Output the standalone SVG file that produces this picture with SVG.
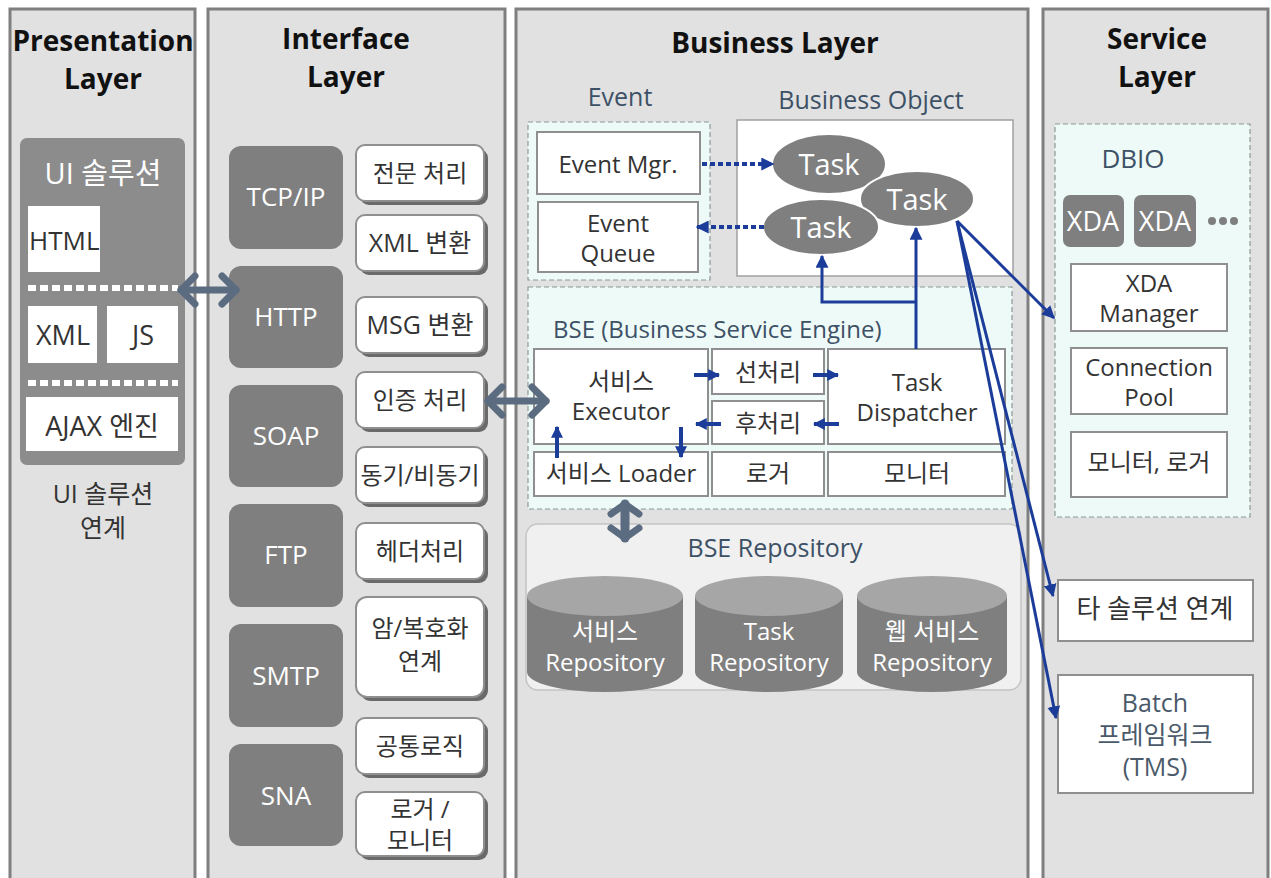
<svg xmlns="http://www.w3.org/2000/svg" width="1271" height="878" viewBox="0 0 1271 878">
<defs>
<marker id="ab" viewBox="0 0 10 10" refX="9" refY="5" markerWidth="13" markerHeight="13" markerUnits="userSpaceOnUse" orient="auto"><path d="M0,0 L10,5 L0,10 z" fill="#1c3c9a"/></marker>
<marker id="abs" viewBox="0 0 10 10" refX="9" refY="5" markerWidth="12" markerHeight="12" markerUnits="userSpaceOnUse" orient="auto"><path d="M0,0 L10,5 L0,10 z" fill="#1c3c9a"/></marker>
</defs>
<style>
text{font-family:"Open Sans","Noto Sans CJK KR",sans-serif;text-anchor:middle;dominant-baseline:central}
.panel{fill:#e1e1e1;stroke:#7f7f7f;stroke-width:3}
.title{font-size:28px;font-weight:bold;fill:#111}
.wbox{fill:#fff;stroke:#8f8f8f;stroke-width:2}
.gbox{fill:#7f7f7f}
.shadow{fill:#6a6a6a}
.dash{fill:#eefaf7;stroke:#8a9a95;stroke-width:1.2;stroke-dasharray:5,3}
.t{font-size:24px;fill:#333}
.tw{font-size:26px;fill:#fff}
.sec{font-size:25px;fill:#3d5166}
.rep{font-size:24px;fill:#fff}
.blue{stroke:#1c3c9a;fill:none}
.chev{stroke:#5b6b80;stroke-width:7;fill:none;stroke-linecap:round;stroke-linejoin:round}
</style>
<rect width="1271" height="878" fill="#fff"/>

<g id="presentation-layer">
<rect class="panel" x="10" y="9" width="185" height="875"/>
<text class="title"><tspan x="103" y="40">Presentation</tspan><tspan x="103" y="78">Layer</tspan></text>
</g>
<g id="ui-solution">
<rect x="20" y="138" width="165" height="327" rx="7" fill="#8c8c8c"/>
<text class="tw" x="103" y="172" style="font-size:29px">UI 솔루션</text>
<rect x="28" y="206" width="72" height="66" fill="#fff"/>
<text class="t" x="29" y="240" style="text-anchor:start;font-size:26px">HTML</text>
<line x1="28" y1="288" x2="178" y2="288" stroke="#fff" stroke-width="6" stroke-dasharray="8,4"/>
<rect x="28" y="306" width="69" height="57" fill="#fff"/>
<text class="t" x="63" y="334" style="font-size:27px">XML</text>
<rect x="107" y="306" width="71" height="57" fill="#fff"/>
<text class="t" x="143" y="334" style="font-size:27px">JS</text>
<line x1="28" y1="383" x2="178" y2="383" stroke="#fff" stroke-width="6" stroke-dasharray="8,4"/>
<rect x="26" y="397" width="152" height="54" fill="#fff"/>
<text class="t" x="102" y="425" style="font-size:27px">AJAX 엔진</text>
</g>
<g id="ui-link-label">
<text class="t" style="font-size:25px"><tspan x="103" y="493">UI 솔루션</tspan><tspan x="103" y="527">연계</tspan></text>
</g>

<g id="interface-layer">
<rect class="panel" x="208" y="9" width="297" height="875"/>
<text class="title"><tspan x="346" y="38">Interface</tspan><tspan x="346" y="76">Layer</tspan></text>
</g>
<g id="protocols">
<rect class="gbox" x="229" y="146" width="114" height="103" rx="12"/><text class="tw" x="286" y="196">TCP/IP</text>
<rect class="gbox" x="229" y="266" width="114" height="102" rx="12"/><text class="tw" x="286" y="316">HTTP</text>
<rect class="gbox" x="229" y="385" width="114" height="102" rx="12"/><text class="tw" x="286" y="435">SOAP</text>
<rect class="gbox" x="229" y="504" width="114" height="103" rx="12"/><text class="tw" x="286" y="554">FTP</text>
<rect class="gbox" x="229" y="624" width="114" height="103" rx="12"/><text class="tw" x="286" y="675">SMTP</text>
<rect class="gbox" x="229" y="744" width="114" height="102" rx="12"/><text class="tw" x="286" y="795">SNA</text>
</g>
<g id="interface-functions">
<rect class="shadow" x="360" y="149" width="128" height="56" rx="9"/><rect class="wbox" x="356" y="145" width="128" height="56" rx="9"/><text class="t" x="420" y="172">전문 처리</text>
<rect class="shadow" x="360" y="219" width="128" height="56" rx="9"/><rect class="wbox" x="356" y="215" width="128" height="56" rx="9"/><text class="t" x="420" y="242" style="font-size:25px">XML 변환</text>
<rect class="shadow" x="360" y="301" width="128" height="56" rx="9"/><rect class="wbox" x="356" y="297" width="128" height="56" rx="9"/><text class="t" x="420" y="324" style="font-size:25px">MSG 변환</text>
<rect class="shadow" x="360" y="376" width="128" height="56" rx="9"/><rect class="wbox" x="356" y="372" width="128" height="56" rx="9"/><text class="t" x="420" y="399">인증 처리</text>
<rect class="shadow" x="360" y="451" width="128" height="56" rx="9"/><rect class="wbox" x="356" y="447" width="128" height="56" rx="9"/><text class="t" x="420" y="474">동기/비동기</text>
<rect class="shadow" x="360" y="527" width="128" height="56" rx="9"/><rect class="wbox" x="356" y="523" width="128" height="56" rx="9"/><text class="t" x="420" y="550">헤더처리</text>
<rect class="shadow" x="360" y="601" width="128" height="100" rx="11"/><rect class="wbox" x="356" y="597" width="128" height="100" rx="11"/><text class="t"><tspan x="420" y="627">암/복호화</tspan><tspan x="420" y="660">연계</tspan></text>
<rect class="shadow" x="360" y="722" width="128" height="56" rx="9"/><rect class="wbox" x="356" y="718" width="128" height="56" rx="9"/><text class="t" x="420" y="745">공통로직</text>
<rect class="shadow" x="360" y="796" width="128" height="64" rx="9"/><rect class="wbox" x="356" y="792" width="128" height="64" rx="9"/><text class="t"><tspan x="420" y="808">로거 /</tspan><tspan x="420" y="839">모니터</tspan></text>
</g>

<g id="business-layer">
<rect class="panel" x="516" y="9" width="512" height="875"/>
<text class="title" x="775" y="42">Business Layer</text>
</g>
<g id="event">
<text class="sec" x="620" y="96">Event</text>
<rect class="dash" x="528" y="122" width="182" height="158"/>
<rect class="wbox" x="537" y="132" width="163" height="62"/>
<text class="t" x="618" y="163">Event Mgr.</text>
<rect class="wbox" x="538" y="202" width="160" height="70"/>
<text class="t"><tspan x="618" y="222">Event</tspan><tspan x="618" y="252">Queue</tspan></text>
</g>
<g id="business-object">
<text class="sec" x="871" y="99">Business Object</text>
<rect x="737" y="120" width="276" height="156" fill="#fff" stroke="#a0a0a0" stroke-width="1.5"/>
<ellipse cx="829" cy="164" rx="57" ry="30" fill="#7f7f7f" stroke="#fff" stroke-width="2"/>
<text class="tw" x="829" y="163" style="font-size:29px">Task</text>
<ellipse cx="917" cy="199" rx="57" ry="28" fill="#7f7f7f" stroke="#fff" stroke-width="2"/>
<text class="tw" x="917" y="198" style="font-size:29px">Task</text>
<ellipse cx="821" cy="227" rx="58" ry="28" fill="#7f7f7f" stroke="#fff" stroke-width="2"/>
<text class="tw" x="821" y="226" style="font-size:29px">Task</text>
</g>
<g id="bse">
<rect class="dash" x="528" y="287" width="484" height="222"/>
<text class="sec" x="553" y="328" style="text-anchor:start;font-size:24px">BSE (Business Service Engine)</text>
<rect class="wbox" x="534" y="349" width="174" height="95"/>
<text class="t"><tspan x="621" y="380">서비스</tspan><tspan x="621" y="410">Executor</tspan></text>
<rect class="wbox" x="712" y="349" width="112" height="45"/>
<text class="t" x="768" y="371">선처리</text>
<rect class="wbox" x="712" y="401" width="112" height="43"/>
<text class="t" x="768" y="422">후처리</text>
<rect class="wbox" x="828" y="349" width="177" height="95"/>
<text class="t"><tspan x="917" y="381">Task</tspan><tspan x="917" y="411">Dispatcher</tspan></text>
<rect class="wbox" x="534" y="452" width="174" height="44"/>
<text class="t" x="621" y="472">서비스 Loader</text>
<rect class="wbox" x="712" y="452" width="112" height="44"/>
<text class="t" x="768" y="472">로거</text>
<rect class="wbox" x="828" y="452" width="177" height="44"/>
<text class="t" x="917" y="472">모니터</text>
</g>
<g id="bse-repository">
<rect x="526" y="524" width="495" height="166" rx="12" fill="#f0f0f0" stroke="#c4c4c4" stroke-width="1.5"/>
<text class="sec" x="775" y="547">BSE Repository</text>
<path d="M527,596 v76 a78,20 0 0 0 156,0 v-76 z" fill="#7f7f7f"/>
<ellipse cx="605" cy="596" rx="78" ry="20" fill="#a6a6a6"/>
<text class="rep"><tspan x="605" y="630">서비스</tspan><tspan x="605" y="661">Repository</tspan></text>
<path d="M695,596 v76 a74,20 0 0 0 148,0 v-76 z" fill="#7f7f7f"/>
<ellipse cx="769" cy="596" rx="74" ry="20" fill="#a6a6a6"/>
<text class="rep"><tspan x="769" y="630">Task</tspan><tspan x="769" y="661">Repository</tspan></text>
<path d="M857,596 v76 a75,20 0 0 0 150,0 v-76 z" fill="#7f7f7f"/>
<ellipse cx="932" cy="596" rx="75" ry="20" fill="#a6a6a6"/>
<text class="rep"><tspan x="932" y="630">웹 서비스</tspan><tspan x="932" y="661">Repository</tspan></text>
</g>

<g id="service-layer">
<rect class="panel" x="1043" y="9" width="225" height="875"/>
<text class="title"><tspan x="1157" y="38">Service</tspan><tspan x="1157" y="76">Layer</tspan></text>
</g>
<g id="dbio">
<rect class="dash" x="1055" y="124" width="195" height="393"/>
<text class="sec" x="1133" y="158" style="font-size:26px">DBIO</text>
<rect class="gbox" x="1063" y="195" width="61" height="52" rx="7"/>
<text class="tw" x="1093" y="220" style="font-size:27px">XDA</text>
<rect class="gbox" x="1134" y="195" width="62" height="52" rx="7"/>
<text class="tw" x="1165" y="220" style="font-size:27px">XDA</text>
<circle cx="1212" cy="221" r="4" fill="#7f7f7f"/><circle cx="1223" cy="221" r="4" fill="#7f7f7f"/><circle cx="1234" cy="221" r="4" fill="#7f7f7f"/>
<rect class="wbox" x="1071" y="264" width="156" height="67"/>
<text class="t"><tspan x="1149" y="282">XDA</tspan><tspan x="1149" y="312">Manager</tspan></text>
<rect class="wbox" x="1071" y="348" width="156" height="66"/>
<text class="t"><tspan x="1149" y="366">Connection</tspan><tspan x="1149" y="396">Pool</tspan></text>
<rect class="wbox" x="1071" y="432" width="156" height="65"/>
<text class="t" x="1149" y="461">모니터, 로거</text>
</g>
<g id="other-solution">
<rect class="wbox" x="1058" y="580" width="195" height="61"/>
<text class="t" x="1155" y="608" style="font-size:26px">타 솔루션 연계</text>
</g>
<g id="batch">
<rect class="wbox" x="1058" y="675" width="195" height="118"/>
<text class="t" style="fill:#4a5a6a;font-size:25px"><tspan x="1155" y="702">Batch</tspan><tspan x="1155" y="734">프레임워크</tspan><tspan x="1155" y="766">(TMS)</tspan></text>
</g>

<g id="connectors">
<line class="chev" x1="181" y1="290" x2="236" y2="290"/>
<polyline class="chev" points="195,276 181,290 195,304"/>
<polyline class="chev" points="222,276 236,290 222,304"/>
<line class="chev" x1="488" y1="401" x2="546" y2="401"/>
<polyline class="chev" points="502,387 488,401 502,415"/>
<polyline class="chev" points="532,387 546,401 532,415"/>
<line class="chev" x1="625" y1="504" x2="625" y2="538" style="stroke-width:9"/>
<polyline class="chev" points="611,514 625,504 639,514"/>
<polyline class="chev" points="611,528 625,538 639,528"/>
<line class="blue" x1="702" y1="164" x2="773" y2="164" stroke-width="4" stroke-dasharray="5,3" marker-end="url(#ab)"/>
<line class="blue" x1="764" y1="227" x2="697" y2="227" stroke-width="4" stroke-dasharray="5,3" marker-end="url(#ab)"/>
<path class="blue" d="M916,349 V228" stroke-width="3" marker-end="url(#ab)"/>
<path class="blue" d="M916,302 H822 V256" stroke-width="3" marker-end="url(#ab)"/>
<line class="blue" x1="694" y1="375" x2="719" y2="375" stroke-width="4" marker-end="url(#abs)"/>
<line class="blue" x1="813" y1="375" x2="838" y2="375" stroke-width="4" marker-end="url(#abs)"/>
<line class="blue" x1="839" y1="424" x2="814" y2="424" stroke-width="4" marker-end="url(#abs)"/>
<line class="blue" x1="721" y1="424" x2="696" y2="424" stroke-width="4" marker-end="url(#abs)"/>
<line class="blue" x1="557" y1="458" x2="557" y2="427" stroke-width="4" marker-end="url(#abs)"/>
<line class="blue" x1="681" y1="427" x2="681" y2="457" stroke-width="4" marker-end="url(#abs)"/>
<line class="blue" x1="957" y1="221" x2="1054" y2="318" stroke-width="3" marker-end="url(#ab)"/>
<line class="blue" x1="957" y1="221" x2="1053" y2="596" stroke-width="3" marker-end="url(#ab)"/>
<line class="blue" x1="957" y1="221" x2="1056" y2="718" stroke-width="3" marker-end="url(#ab)"/>
</g>
</svg>
